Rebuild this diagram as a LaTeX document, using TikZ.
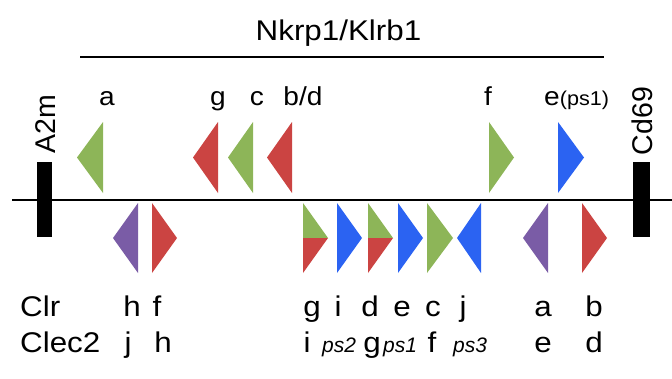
\documentclass[tikz,border=0pt]{standalone}
\usepackage{fontspec}
\setmainfont{Liberation Sans}
\definecolor{gG}{HTML}{8DB558}
\definecolor{gR}{HTML}{CB4442}
\definecolor{gB}{HTML}{2B63F2}
\definecolor{gP}{HTML}{7A5CA6}
\begin{document}
\begin{tikzpicture}[x=1pt,y=-1pt,
  big/.style={inner sep=0pt,anchor=base,xscale=1.1,font=\fontsize{28.5}{32}\selectfont},
  top/.style={inner sep=0pt,anchor=base,xscale=1.08,font=\fontsize{26}{30}\selectfont},
  sml/.style={inner sep=0pt,anchor=base,font=\fontsize{21}{24}\selectfont\itshape},
  bar/.style={fill=black},
  rule/.style={line width=2.8pt,black}]
\useasboundingbox (0,0) rectangle (672,378);
% lines
\coordinate (L0) at (12,200); \coordinate (L1) at (672,200);
\draw[rule] (L0) -- (L1);
\coordinate (B0) at (80,57); \coordinate (B1) at (604,57);
\draw[rule] (B0) -- (B1);
\node[big] (title) at (338.5,40) {Nkrp1/Klrb1};
% bars
\fill[bar] (37,162) rectangle (52,237);
\fill[bar] (633,162) rectangle (650,237);
\node[big,xscale=1/1.1,rotate=90,anchor=center] (a2m) at (46,124) {A2m};
\node[big,xscale=1/1.1,rotate=90,anchor=center] (cd69) at (642,121) {Cd69};
% upper triangles (y 122..193)
\newcommand\tl[3]{\fill[#1] (#2,157.5) -- (#3,122) -- (#3,193) -- cycle;}
\newcommand\tr[3]{\fill[#1] (#3,157.5) -- (#2,122) -- (#2,193) -- cycle;}
\tl{gG}{77}{103}
\tl{gR}{193}{218}
\tl{gG}{228}{253}
\tl{gR}{267}{292}
\tr{gG}{489}{514}
\tr{gB}{558}{584}
% lower triangles (y 203..273)
\newcommand\bl[3]{\fill[#1] (#2,238) -- (#3,203) -- (#3,273) -- cycle;}
\newcommand\br[3]{\fill[#1] (#3,238) -- (#2,203) -- (#2,273) -- cycle;}
\newcommand\bs[2]{\fill[gG] (#1,203) -- (#2,238) -- (#1,238) -- cycle;
  \fill[gR] (#1,238) -- (#2,238) -- (#1,273) -- cycle;}
\bl{gP}{113}{138}
\br{gR}{152}{177}
\bs{303}{328}
\br{gB}{337}{362}
\bs{368}{393}
\br{gB}{398}{423}
\br{gG}{427}{453}
\bl{gB}{457}{481}
\bl{gP}{523}{548}
\br{gR}{582}{607}
% top labels
\node[top] (ta) at (107,105) {a};
\node[top] (tg) at (218,105) {g};
\node[top] (tc) at (257,105) {c};
\node[top] (tbd) at (303,105) {b/d};
\node[top] (tf) at (488,105) {f};
\node[top,anchor=base west] (te) at (544,105) {e{\fontsize{20}{24}\selectfont(ps1)}};
% bottom rows
\node[big,anchor=base west] (clr) at (20,316) {Clr};
\node[big,anchor=base west] (clec) at (20,352) {Clec2};
\foreach \n/\x in {h/132,f/157,g/312,i/338,d/370,e/402,c/433,j/463,a/543,b/594}
  \node[big] (r\n) at (\x,316) {\n};
\foreach \n/\x in {j/128,h/163,i/307,g/372,f/432,e/543,d/594}
  \node[big] (s\n) at (\x,352) {\n};
\node[sml] (ps2) at (339,352) {ps2};
\node[sml] (ps1) at (400,352) {ps1};
\node[sml] (ps3) at (470,352) {ps3};
\end{tikzpicture}
\end{document}
